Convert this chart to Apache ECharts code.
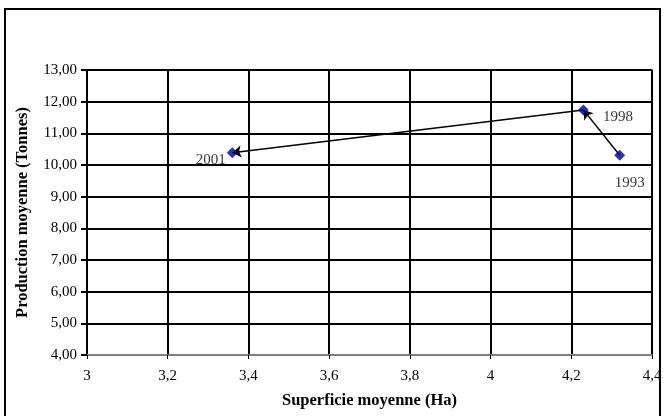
<!DOCTYPE html>
<html>
<head>
<meta charset="utf-8">
<script src="https://cdn.jsdelivr.net/npm/echarts@6/dist/echarts.min.js"></script>
<style>
html,body{margin:0;padding:0;background:#fff;}
#chart{width:666px;height:416px;}
</style>
</head>
<body>
<div id="chart"></div>
<script>
// Data
const years = ['1993', '1998', '2001'];
const surface = [4.32, 4.23, 3.36];      // Superficie moyenne (Ha)
const production = [10.31, 11.74, 10.39]; // Production moyenne (Tonnes)
const xTitle = 'Superficie moyenne (Ha)';
const yTitle = 'Production moyenne (Tonnes)';

const FONT = 'Liberation Serif';
const pts = years.map((y, i) => [surface[i], production[i]]);
const arrows = [];
for (let i = 0; i < pts.length - 1; i++) arrows.push({ coords: [pts[i], pts[i + 1]] });

const labelOffsets = [
  { position: 'bottom', offset: [10, 10] },
  { position: 'right', offset: [9, 7] },
  { position: 'left', offset: [4, 7] }
];

const chart = echarts.init(document.getElementById('chart'), null, { renderer: 'canvas' });
chart.setOption({
  animation: false,
  backgroundColor: '#fff',
  graphic: [{
    type: 'rect', z: 100, silent: true,
    shape: { x: 5, y: 9, width: 655, height: 430 },
    style: { fill: 'none', stroke: '#000', lineWidth: 2 }
  }],
  grid: {
    left: 87, right: 14, top: 70, bottom: 61,
    show: true, borderColor: '#808080', borderWidth: 2, backgroundColor: '#fff'
  },
  xAxis: {
    type: 'value', min: 3, max: 4.4, interval: 0.2,
    name: xTitle, nameLocation: 'middle', nameGap: 37,
    nameTextStyle: { fontFamily: FONT, fontWeight: 'bold', fontSize: 16.5, color: '#000' },
    axisLine: { show: true, lineStyle: { color: '#808080', width: 2 } },
    axisTick: { show: true, length: 4, lineStyle: { color: '#000', width: 1 } },
    axisLabel: {
      fontFamily: FONT, fontSize: 15, color: '#000', margin: 14,
      formatter: v => String(+v.toFixed(1)).replace('.', ',')
    },
    splitLine: { show: true, lineStyle: { color: '#000', width: 2 } }
  },
  yAxis: {
    type: 'value', min: 4, max: 13, interval: 1,
    name: yTitle, nameLocation: 'middle', nameGap: 56, nameRotate: 90,
    nameTextStyle: { fontFamily: FONT, fontWeight: 'bold', fontSize: 16.5, color: '#000' },
    axisLine: { show: true, lineStyle: { color: '#000', width: 2 } },
    axisTick: { show: true, length: 6, lineStyle: { color: '#000', width: 2 } },
    axisLabel: {
      fontFamily: FONT, fontSize: 15, color: '#000', margin: 10,
      formatter: v => v.toFixed(2).replace('.', ',')
    },
    splitLine: { show: true, lineStyle: { color: '#000', width: 2 } }
  },
  series: [
    {
      type: 'lines', coordinateSystem: 'cartesian2d', z: 3,
      symbol: ['none', 'arrow'], symbolSize: 9,
      lineStyle: { color: '#000', width: 1.5, opacity: 1 },
      data: arrows
    },
    {
      type: 'scatter', z: 4,
      symbol: 'diamond', symbolSize: 11,
      itemStyle: { color: '#000080' },
      data: pts.map((p, i) => ({
        value: p,
        label: {
          show: true, formatter: years[i],
          position: labelOffsets[i].position, offset: labelOffsets[i].offset,
          fontFamily: FONT, fontSize: 15, color: '#000'
        }
      }))
    }
  ]
});
</script>
</body>
</html>
